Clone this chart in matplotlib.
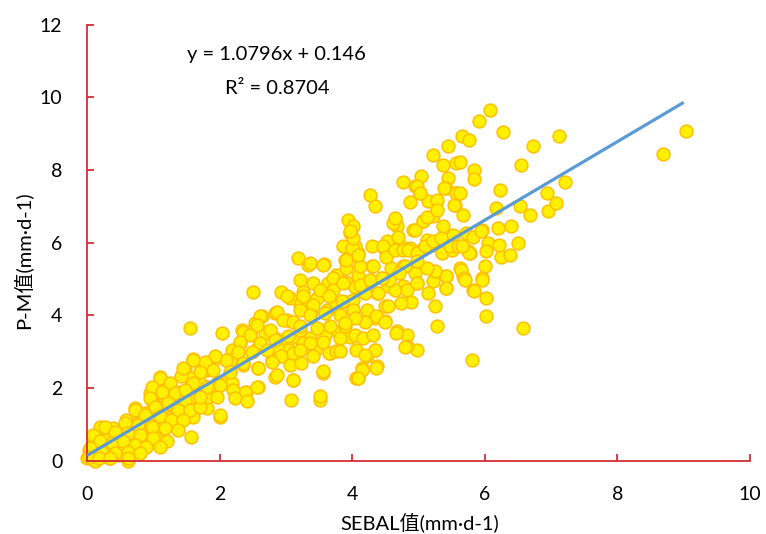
import matplotlib
matplotlib.use("Agg")
import matplotlib.pyplot as plt
import numpy as np

plt.rcParams['font.family'] = ['Lato', 'Noto Sans CJK SC', 'DejaVu Sans']

# SEBAL (x) vs P-M (y) values
sebal = [
    # low range
    1.60, 1.93, 2.10, 1.47, 1.80, 1.10, 1.57, 1.22, 1.40, 1.67, 1.93, 2.08, 0.95, 0.97, 1.15, 1.27,
    1.55, 1.77, 1.65, 1.80, 2.00, 0.72, 0.87, 1.05, 1.20, 1.40, 1.60, 0.59, 0.77, 0.95, 1.12, 1.35,
    1.57, 0.19, 0.39, 0.52, 0.67, 0.84, 1.02, 0.09, 0.27, 0.44, 0.64, 0.84, 0.02, 0.17, 0.37, 0.57,
    0.00, 0.12, 0.32, 0.47, 0.62, 0.17, 1.55,
    # low range, second reading
    1.10, 1.25, 1.42, 1.55, 0.97, 1.12, 1.32, 1.47, 0.95, 1.02, 1.22, 1.37, 1.55, 0.72, 0.87, 1.10,
    1.27, 1.45, 0.57, 0.77, 0.97, 1.17, 1.37, 0.27, 0.42, 0.62, 0.79, 0.99, 1.20, 0.09, 0.19, 0.37,
    0.54, 0.72, 0.89, 1.10, 0.04, 0.22, 0.42, 0.62, 0.79, 0.02, 0.17, 0.34, 0.62,
    # mid-low range
    3.18, 3.33, 3.57, 3.89, 4.04, 2.50, 3.21, 3.41, 3.63, 3.76, 3.91, 4.04, 2.93, 3.06, 3.26, 3.46,
    3.21, 3.38, 3.61, 3.76, 3.91, 4.01, 2.83, 3.01, 2.63, 2.53, 2.33, 2.03, 2.45, 2.68, 2.83, 3.01,
    3.16, 3.36, 3.58, 3.79, 3.96, 4.06, 3.66, 3.43, 3.21, 3.03, 2.86, 2.58, 2.30, 2.18, 1.93, 2.15,
    2.35, 2.58, 2.78, 2.83, 3.06, 3.23, 3.56, 3.11, 4.06, 1.80, 1.70, 1.95, 2.18, 2.40, 2.58, 1.80,
    2.25, 3.08, 3.51, 2.00, 1.70,
    # mid-low range, second reading
    2.61, 2.86, 3.01, 2.96, 3.11, 3.23, 2.35, 2.56, 2.76, 2.46, 2.30, 2.61, 2.83, 3.03, 3.21, 2.28,
    2.48, 2.71, 2.93, 3.11, 3.26, 2.10, 1.93, 1.78, 1.60, 1.45, 1.70, 1.90, 2.15, 2.35, 2.58, 2.78,
    2.86, 3.11, 2.56, 2.38, 2.20, 2.00, 1.80, 1.60, 1.48, 1.70, 1.95, 2.23, 2.41,
    # mid-high range
    5.22, 5.36, 5.57, 5.84, 5.84, 6.54, 4.76, 5.04, 4.94, 5.45, 4.27, 4.34, 4.87, 5.02, 5.14, 5.27,
    5.42, 5.57, 5.55, 5.67, 6.23, 3.94, 4.01, 3.96, 4.64, 4.67, 4.92, 5.07, 5.22, 5.37, 5.12, 5.52,
    5.72, 5.95, 6.20, 6.40, 6.17, 6.53, 6.68, 6.05, 6.25, 6.38, 6.50, 6.95, 3.56, 3.36, 3.71, 3.91,
    4.09, 4.04, 4.29, 4.52, 4.49, 4.74, 4.87, 5.04, 5.25, 5.35, 5.50, 5.77, 6.00, 5.95, 5.82, 5.67,
    5.62, 5.42, 5.42, 5.22, 5.25, 6.02, 6.02, 5.27, 6.58, 5.81, 3.51, 3.71, 3.86, 4.09, 4.29, 4.44,
    4.59, 4.77, 4.94, 4.97, 4.77, 4.54, 4.37, 4.19, 4.01, 3.84, 3.64, 3.41, 3.26, 3.21, 3.36, 3.59,
    3.81, 4.01, 4.22, 4.49, 4.49, 4.34, 4.67, 4.82, 4.97, 4.82, 4.34, 4.22, 4.14, 4.37, 4.09, 3.56,
    3.51, 3.21, 3.46, 3.66, 3.89, 4.04, 3.81, 3.56, 3.36, 3.21, 3.64, 3.41, 3.76,
    # mid-high range, second reading
    4.11, 4.26, 4.39, 4.64, 4.82, 5.14, 4.89, 4.74, 4.54, 4.36, 4.19, 4.04, 3.89, 4.16, 4.31, 4.49,
    4.66, 4.79, 4.34, 4.19, 3.81, 4.14, 4.36, 4.09, 3.91, 4.11, 4.31, 4.46, 4.51, 4.64, 4.76, 4.84,
    4.97, 5.09, 5.22, 5.34, 5.47, 5.59, 5.74, 5.82, 5.64, 5.69, 5.42, 5.24, 5.12, 4.97, 4.79, 4.71,
    4.56, 4.44, 4.97, 5.42, 3.86, 3.99, 4.09, 4.01, 3.96, 4.61, 4.69, 4.94, 5.07, 5.12, 5.27, 5.54,
    4.97, 5.02, 5.39, 5.57, 4.64,
    # upper range
    6.08, 5.91, 5.65, 5.76, 6.27, 7.12, 6.72, 5.44, 6.93, 7.21, 7.07, 5.76, 5.65, 5.70, 5.96, 5.84,
    6.21, 6.02, 5.94, 5.62, 5.62, 9.03, 8.69,
]
pm = [
    # low range
    2.79, 2.85, 2.77, 2.52, 2.50, 2.30, 2.27, 2.09, 1.90, 2.13, 1.99, 2.13, 1.86, 1.63, 1.77, 1.54,
    1.67, 1.77, 1.44, 1.44, 1.21, 1.44, 1.31, 1.35, 1.17, 1.21, 1.21, 1.12, 1.03, 0.99, 0.89, 0.94,
    0.66, 0.94, 0.89, 0.80, 0.71, 0.66, 0.66, 0.66, 0.57, 0.53, 0.39, 0.48, 0.30, 0.25, 0.30, 0.16,
    0.07, 0.00, 0.07, 0.16, 0.00, 0.48, 3.66,
    # low range, second reading
    2.27, 2.13, 2.32, 2.04, 2.04, 1.90, 1.86, 1.67, 1.72, 1.49, 1.58, 1.40, 1.40, 1.40, 1.26, 1.22,
    1.12, 1.12, 1.03, 0.99, 0.94, 0.89, 0.85, 0.94, 0.80, 0.76, 0.71, 0.62, 0.53, 0.71, 0.53, 0.48,
    0.53, 0.44, 0.39, 0.39, 0.34, 0.25, 0.21, 0.25, 0.21, 0.11, 0.07, 0.07, 0.07,
    # mid-low range
    5.57, 5.39, 5.41, 5.52, 5.66, 4.63, 4.97, 4.88, 4.88, 5.11, 4.93, 4.79, 4.65, 4.47, 4.65, 4.47,
    4.29, 4.10, 4.15, 4.33, 4.38, 4.15, 4.06, 3.87, 3.97, 3.78, 3.60, 3.52, 3.55, 3.51, 3.37, 3.23,
    3.41, 3.37, 3.46, 3.55, 3.41, 3.05, 2.96, 3.05, 3.05, 3.05, 3.14, 3.14, 3.23, 3.05, 2.82, 2.77,
    2.63, 2.54, 2.77, 2.31, 2.63, 2.68, 2.41, 2.22, 2.27, 2.54, 2.13, 2.13, 2.13, 1.90, 2.04, 1.76,
    1.81, 1.67, 1.67, 1.26, 1.49,
    # mid-low range, second reading
    3.97, 4.10, 4.52, 3.87, 3.83, 4.33, 3.55, 3.74, 3.60, 3.46, 3.28, 3.23, 3.32, 3.42, 3.60, 3.00,
    3.00, 3.05, 2.87, 2.96, 3.23, 2.77, 2.87, 2.73, 2.77, 2.54, 2.45, 2.50, 2.45, 2.68, 2.54, 2.73,
    2.36, 2.22, 2.04, 1.90, 1.95, 2.09, 2.04, 2.13, 1.95, 1.76, 1.76, 1.72, 1.63,
    # mid-high range
    8.42, 8.15, 8.19, 8.01, 7.75, 8.15, 7.67, 7.84, 7.55, 7.78, 7.32, 7.00, 7.11, 7.37, 7.14, 7.18,
    7.50, 7.37, 7.05, 6.77, 7.46, 6.63, 6.45, 6.27, 6.63, 6.45, 6.36, 6.59, 6.73, 6.45, 6.08, 6.22,
    6.27, 6.36, 6.40, 6.45, 6.95, 7.00, 6.77, 5.99, 5.62, 5.67, 5.99, 6.86, 5.39, 5.44, 5.03, 5.30,
    5.72, 5.90, 5.90, 6.04, 5.81, 5.90, 5.85, 5.81, 5.94, 5.72, 5.81, 5.72, 5.35, 5.03, 4.71, 5.07,
    5.30, 5.07, 4.75, 4.94, 4.25, 4.48, 3.97, 3.70, 3.65, 2.76, 4.71, 4.71, 4.89, 5.07, 5.35, 5.03,
    5.30, 5.35, 5.17, 4.89, 4.80, 4.80, 4.61, 4.61, 4.43, 4.39, 4.52, 4.29, 4.52, 4.16, 4.02, 4.06,
    4.02, 4.16, 4.16, 4.25, 3.84, 3.93, 3.56, 3.47, 3.05, 3.15, 3.05, 2.87, 2.55, 2.60, 2.28, 2.46,
    1.77, 3.70, 3.65, 3.70, 3.70, 3.47, 3.38, 3.28, 3.24, 3.05, 2.96, 2.87, 3.01,
    # mid-high range, second reading
    4.84, 4.98, 4.61, 4.71, 4.71, 4.61, 4.38, 4.34, 4.25, 3.97, 3.83, 3.93, 3.79, 3.38, 3.47, 3.83,
    3.51, 3.14, 3.05, 2.92, 3.01, 2.50, 2.55, 2.27, 5.53, 5.35, 5.35, 5.90, 5.62, 5.81, 5.81, 5.81,
    5.72, 5.90, 6.04, 6.13, 5.90, 5.90, 5.76, 6.17, 5.26, 5.03, 5.07, 5.21, 5.30, 5.49, 5.35, 5.17,
    4.98, 5.03, 4.89, 4.75, 5.90, 5.85, 5.67, 6.13, 6.31, 6.54, 6.17, 6.36, 6.59, 6.72, 6.91, 7.05,
    7.55, 7.37, 7.51, 7.37, 6.68,
    # upper range
    9.64, 9.34, 8.94, 8.82, 9.04, 8.93, 8.67, 8.67, 7.37, 7.67, 7.09, 5.71, 5.90, 4.98, 4.98, 4.68,
    5.94, 5.76, 6.33, 7.37, 8.21, 9.08, 8.45,
]

slope = 1.0796
intercept = 0.146
fit_range = [0, 9]
x_ticks = [0, 2, 4, 6, 8, 10]
y_ticks = [0, 2, 4, 6, 8, 10, 12]
eq_text = "y = 1.0796x + 0.146"
r2_text = "R² = 0.8704"
x_label = "SEBAL值(mm·d-1)"
y_label = "P-M值(mm·d-1)"

W, H = 766, 534
fig = plt.figure(figsize=(W / 100, H / 100), dpi=100)
ax = fig.add_axes([87.3 / W, (H - 460.7) / H, (750 - 87.3) / W, (460.7 - 24.7) / H])

ax.scatter(sebal, pm, s=85, facecolor='#FFF000', edgecolor='#FFC000', linewidth=1.1,
           clip_on=False, zorder=2)
fx = np.array(fit_range, dtype=float)
ax.plot(fx, slope * fx + intercept, color='#5B9BD5', linewidth=2.3, zorder=3,
        solid_capstyle='butt')

ax.set_xlim(0, 10)
ax.set_ylim(0, 12)
ax.set_xticks(x_ticks)
ax.set_yticks(y_ticks)
red = '#D42E2E'
for s in ['top', 'right']:
    ax.spines[s].set_visible(False)
for s in ['left', 'bottom']:
    ax.spines[s].set_color(red)
    ax.spines[s].set_linewidth(1.3)
ax.tick_params(axis='both', direction='in', length=5, width=1.3, color=red,
               labelsize=14, pad=18, labelcolor='black')

ax.text(2.86, 11.18, eq_text, ha='center', va='center', fontsize=14.5)
ax.text(2.86, 10.24, r2_text, ha='center', va='center', fontsize=14.5)

fig.text(420 / W, 1 - 522 / H, x_label, ha='center', va='center', fontsize=14.5)
fig.text(22 / W, 1 - 260 / H, y_label, ha='center', va='center', fontsize=14.5,
         rotation=90)

fig.savefig('out.png', dpi=100)
